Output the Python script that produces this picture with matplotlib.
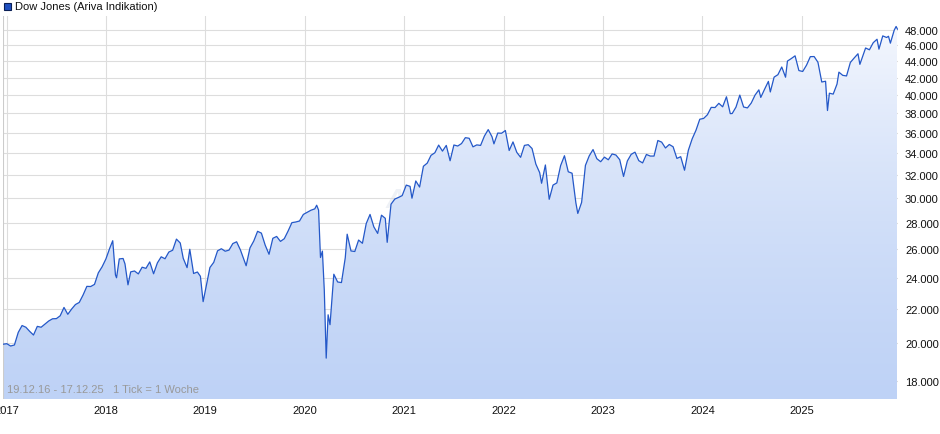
import matplotlib
matplotlib.use("Agg")
import matplotlib.pyplot as plt
import matplotlib.dates as mdates
import numpy as np
import pandas as pd
plt.rcParams['font.family'] = ['Liberation Sans', 'DejaVu Sans']

dates = ["2016-12-19","2017-01-02","2017-01-16","2017-01-30","2017-02-13","2017-02-27","2017-03-13","2017-03-27","2017-04-10","2017-04-24",
"2017-05-08","2017-05-22","2017-06-05","2017-06-19","2017-07-03","2017-07-17","2017-07-31","2017-08-14","2017-08-28","2017-09-11",
"2017-09-25","2017-10-09","2017-10-23","2017-11-06","2017-11-20","2017-12-04","2017-12-18","2018-01-01","2018-01-15","2018-01-26",
"2018-02-05","2018-02-09","2018-02-19","2018-03-05","2018-03-12","2018-03-23","2018-04-02","2018-04-16","2018-04-30","2018-05-14",
"2018-05-28","2018-06-11","2018-06-25","2018-07-09","2018-07-23","2018-08-06","2018-08-20","2018-09-03","2018-09-17","2018-10-01",
"2018-10-12","2018-10-26","2018-11-05","2018-11-19","2018-12-03","2018-12-14","2018-12-24","2019-01-04","2019-01-18","2019-02-01",
"2019-02-15","2019-03-01","2019-03-15","2019-03-29","2019-04-12","2019-04-26","2019-05-10","2019-05-31","2019-06-14","2019-06-28",
"2019-07-12","2019-07-26","2019-08-09","2019-08-23","2019-09-06","2019-09-20","2019-10-04","2019-10-18","2019-11-01","2019-11-15",
"2019-11-29","2019-12-13","2019-12-27","2020-01-10","2020-01-24","2020-02-07","2020-02-14","2020-02-21","2020-02-28","2020-03-06",
"2020-03-13","2020-03-20","2020-03-27","2020-04-03","2020-04-17","2020-05-01","2020-05-15","2020-05-29","2020-06-05","2020-06-19",
"2020-07-03","2020-07-17","2020-07-31","2020-08-14","2020-08-28","2020-09-11","2020-09-25","2020-10-09","2020-10-23","2020-10-30",
"2020-11-13","2020-11-27","2020-12-11","2020-12-24","2021-01-08","2021-01-22","2021-01-29","2021-02-12","2021-02-26","2021-03-12",
"2021-03-26","2021-04-09","2021-04-23","2021-05-07","2021-05-21","2021-06-04","2021-06-18","2021-07-02","2021-07-16","2021-07-30",
"2021-08-13","2021-08-27","2021-09-10","2021-09-24","2021-10-08","2021-10-22","2021-11-05","2021-11-19","2021-11-26","2021-12-10",
"2021-12-24","2022-01-07","2022-01-21","2022-02-04","2022-02-18","2022-03-04","2022-03-18","2022-04-01","2022-04-15","2022-04-29",
"2022-05-13","2022-05-20","2022-06-03","2022-06-17","2022-07-01","2022-07-15","2022-07-29","2022-08-12","2022-08-26","2022-09-09",
"2022-09-23","2022-09-30","2022-10-14","2022-10-28","2022-11-11","2022-11-25","2022-12-09","2022-12-23","2023-01-06","2023-01-20",
"2023-02-03","2023-02-17","2023-03-03","2023-03-17","2023-03-31","2023-04-14","2023-04-28","2023-05-12","2023-05-26","2023-06-09",
"2023-06-23","2023-07-07","2023-07-21","2023-08-04","2023-08-18","2023-09-01","2023-09-15","2023-09-29","2023-10-13","2023-10-27",
"2023-11-10","2023-11-24","2023-12-08","2023-12-22","2024-01-05","2024-01-19","2024-02-02","2024-02-16","2024-03-01","2024-03-15",
"2024-03-29","2024-04-12","2024-04-19","2024-05-03","2024-05-17","2024-05-31","2024-06-14","2024-06-28","2024-07-12","2024-07-26",
"2024-08-02","2024-08-16","2024-08-30","2024-09-06","2024-09-20","2024-10-04","2024-10-18","2024-11-01","2024-11-08","2024-11-22",
"2024-12-06","2024-12-20","2025-01-03","2025-01-17","2025-01-31","2025-02-14","2025-02-28","2025-03-14","2025-03-28","2025-04-04",
"2025-04-11","2025-04-25","2025-05-09","2025-05-16","2025-05-30","2025-06-13","2025-06-27","2025-07-11","2025-07-25","2025-08-01",
"2025-08-15","2025-08-22","2025-09-05","2025-09-19","2025-10-03","2025-10-10","2025-10-24","2025-11-07","2025-11-14","2025-11-21",
"2025-12-05","2025-12-12","2025-12-17"]
values = [19930,19960,19830,19890,20600,21000,20900,20660,20450,20950,
20900,21080,21270,21400,21410,21580,22090,21670,21990,22270,
22400,22870,23430,23420,23560,24330,24750,25300,26070,26620,
24190,24000,25300,25330,24950,23530,24400,24460,24260,24720,
24640,25090,24270,25020,25450,25310,25790,25920,26740,26450,
25340,24690,25990,24290,24390,24100,22450,23430,24700,25060,
25880,26030,25850,25930,26410,26540,25940,24820,26090,26600,
27330,27190,26290,25630,26800,26940,26570,26770,27350,28000,
28050,28130,28650,28820,28990,29100,29400,29000,25400,25860,
23180,19170,21640,21050,24240,23720,23680,25380,27110,25870,
25830,26670,26430,27930,28650,27670,27170,28590,28340,26500,
29480,29910,30050,30200,31100,30990,29980,31460,30930,32780,
33070,33800,34040,34780,34200,34750,33290,34790,34690,34930,
35510,35450,34610,34800,34750,35670,36320,35600,34900,35970,
35950,36230,34260,35090,34080,33610,34750,34820,34450,32980,
32200,31260,32900,29890,31100,31290,32850,33760,32280,32150,
29590,28730,29630,32860,33750,34350,33480,33200,33630,33380,
33930,33830,33390,31860,33270,33890,34100,33300,33090,33880,
33730,33730,35230,35070,34500,34840,34620,33510,33670,32420,
34280,35390,36250,37390,37470,37860,38650,38630,39090,38710,
39810,37980,37990,38680,40000,38690,38590,39120,40000,40590,
39740,40660,41560,40350,42060,42350,43270,42050,43990,44300,
44640,42840,42730,43490,44540,44550,43840,41490,41580,38310,
40210,40110,41250,42650,42270,42200,43820,44370,44900,43590,
44950,45630,45400,46310,46760,45480,47200,46990,47150,46250,
47950,48460,48100]
y_ticks = list(range(18000, 48001, 2000))
x_years = list(range(2017, 2026))

x = pd.to_datetime(dates)
W, H = 940, 435
fig = plt.figure(figsize=(W/100, H/100), dpi=100)
ax = fig.add_axes([3/W, 1-400/H, 895/W, 383/H])
ax.set_yscale("log")
ymin, ymax = 17100, 49900
ax.set_ylim(ymin, ymax)
ax.set_xlim(x[0], x[-1] + pd.Timedelta(days=2))

xn = mdates.date2num(x)
grad = np.linspace(0, 1, 256).reshape(-1, 1)
from matplotlib.colors import LinearSegmentedColormap
cmap = LinearSegmentedColormap.from_list("g", ["#bed2f6", "#f7f9fe"])
im = ax.imshow(grad, aspect="auto", cmap=cmap, origin="lower",
               extent=[xn[0], xn[-1], ymin, ymax], zorder=1)
poly = ax.fill_between(x, values, ymin, color="none", zorder=0)
im.set_clip_path(poly.get_paths()[0], transform=ax.transData)
ax.plot(x, values, color="#2458c8", lw=0.9, zorder=3)

ax.set_yticks(y_ticks)
ax.set_yticklabels([f"{v:,}".replace(",", ".") for v in y_ticks])
ax.yaxis.set_minor_locator(matplotlib.ticker.NullLocator())
ax.yaxis.tick_right()
ax.set_xticks([pd.Timestamp(f"{yr}-01-01") for yr in x_years])
ax.set_xticklabels([str(yr) for yr in x_years])
ax.tick_params(length=0, labelsize=8, colors="#111111", pad=4)
ax.tick_params(axis="y", pad=5)
ax.grid(True, color="#dddddd", lw=0.8, zorder=0)
ax.set_axisbelow(True)
for s in ax.spines.values():
    s.set_visible(False)
ax.axvline(x[0], color="#cccccc", lw=0.8)

ax.text(0.004, 0.012, "19.12.16 - 17.12.25   1 Tick = 1 Woche", transform=ax.transAxes,
        fontsize=8, color="#999999", ha="left", va="bottom", zorder=5)
ax.text(0.5, 0.52, "ARIVA.DE", transform=ax.transAxes, fontsize=20, color="#eef1f6",
        style="italic", fontweight="bold", ha="center", va="center", zorder=0.5)

fig.patches.append(plt.Rectangle((4/W, 1-11/H), 7/W, 7/H, transform=fig.transFigure,
                                 facecolor="#1f4fbf", edgecolor="#0a1f55", lw=0.8))
fig.text(15/W, 1-7.5/H, "Dow Jones (Ariva Indikation)", fontsize=8, va="center", ha="left", color="#111111")
fig.savefig("out.png", dpi=100)
